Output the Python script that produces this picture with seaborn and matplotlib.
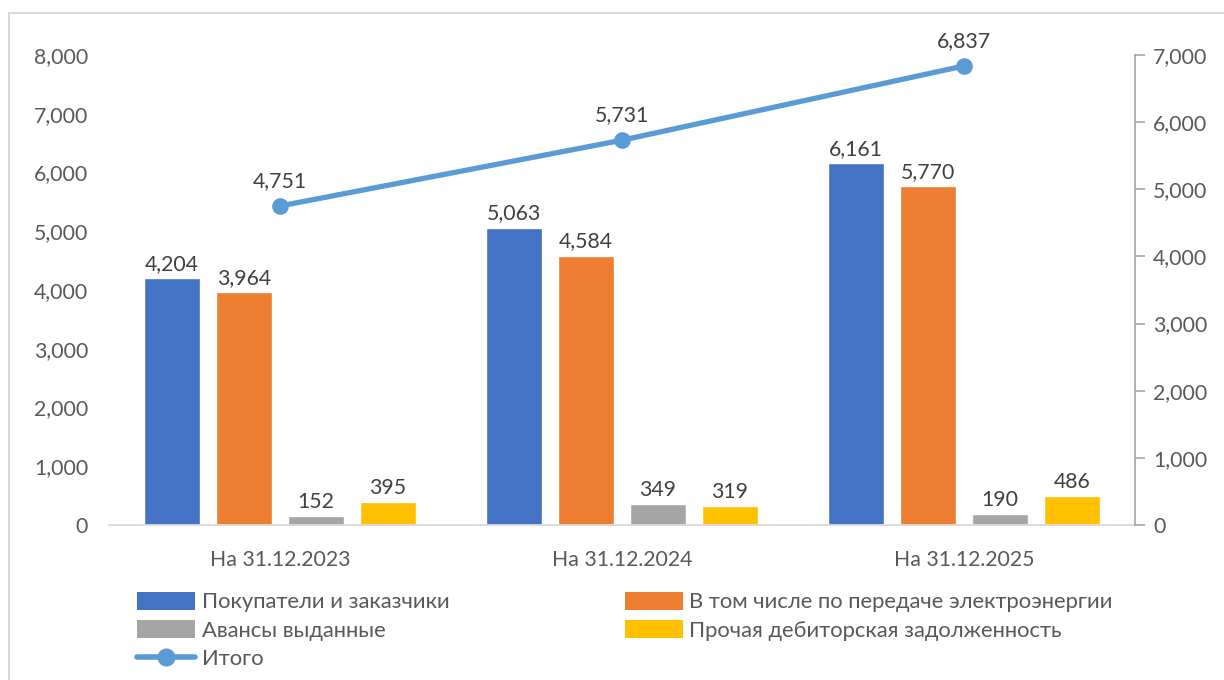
import matplotlib
matplotlib.use("Agg")
import matplotlib.pyplot as plt
from matplotlib.lines import Line2D
from matplotlib.patches import Patch
import seaborn as sns
import pandas as pd

categories = ["На 31.12.2023", "На 31.12.2024", "На 31.12.2025"]
series_names = [
    "Покупатели и заказчики",
    "В том числе по передаче электроэнергии",
    "Авансы выданные",
    "Прочая дебиторская задолженность",
]
buyers = [4204, 5063, 6161]
power_transfer = [3964, 4584, 5770]
advances = [152, 349, 190]
other = [395, 319, 486]
total_name = "Итого"
total = [4751, 5731, 6837]

bar_colors = ["#4472C4", "#ED7D31", "#A5A5A5", "#FFC000"]
line_color = "#5B9BD5"
tick_color = "#595959"
label_color = "#404040"
FS = 15.3
LEG_FS = 15.8

rows = []
for name, vals in zip(series_names, [buyers, power_transfer, advances, other]):
    for cat, v in zip(categories, vals):
        rows.append({"cat": cat, "series": name, "value": v})
df = pd.DataFrame(rows)
df_total = pd.DataFrame({"cat": categories, "value": total})

sns.set_theme(style="white")
plt.rcParams["font.family"] = ["Lato", "DejaVu Sans"]

fig = plt.figure(figsize=(12.24, 6.8), dpi=100)
W, H = 1224, 680
ax = fig.add_axes([109 / W, 1 - 525 / H, (1135 - 109) / W, (525 - 55) / H])

sns.barplot(data=df, x="cat", y="value", hue="series", hue_order=series_names,
            palette=bar_colors, width=0.842, gap=0.21, saturation=1,
            legend=False, ax=ax, errorbar=None)
ax.set_xlim(-0.5, 2.5)
ax.set_ylim(0, 8000)
ax.set_yticks(range(0, 8001, 1000))
ax.set_yticklabels([f"{v:,}" for v in range(0, 8001, 1000)])
ax.set_xlabel("")
ax.set_ylabel("")
for s in ["top", "left", "right"]:
    ax.spines[s].set_visible(False)
ax.spines["bottom"].set_color("#D9D9D9")
ax.spines["bottom"].set_linewidth(1.3)
ax.tick_params(axis="y", length=0, pad=15, labelsize=FS, labelcolor=tick_color)
ax.tick_params(axis="x", length=0, pad=18, labelsize=FS, labelcolor=tick_color)

for cont in ax.containers:
    ax.bar_label(cont, labels=[f"{v:,.0f}" for v in cont.datavalues],
                 padding=3, fontsize=FS, color=label_color)

ax2 = ax.twinx()
sns.lineplot(data=df_total, x="cat", y="value", ax=ax2, color=line_color,
             linewidth=3.8, marker="o", markersize=12, markeredgewidth=0,
             legend=False)
ax2.set_ylim(0, 7000)
ax2.set_xlim(-0.5, 2.5)
ax2.set_yticks(range(0, 7001, 1000))
ax2.set_yticklabels([f"{v:,}" for v in range(0, 7001, 1000)])
ax2.set_ylabel("")
ax2.set_xlabel("")
for s in ["top", "left", "bottom"]:
    ax2.spines[s].set_visible(False)
ax2.spines["right"].set_color("#A6A6A6")
ax2.spines["right"].set_linewidth(1.2)
ax2.tick_params(axis="y", length=7, width=1.2, color="#A6A6A6", direction="out",
                pad=6, labelsize=FS, labelcolor=tick_color)
for i, v in enumerate(total):
    ax2.annotate(f"{v:,}", (i, v), xytext=(0, 11), textcoords="offset points",
                 ha="center", va="bottom", fontsize=FS, color=label_color)

# legend below the plot, two columns plus the line entry
handles = [Patch(facecolor=c, edgecolor="none") for c in bar_colors]
handles.append(Line2D([], [], color=line_color, linewidth=4, marker="o",
                      markersize=13, markeredgewidth=0))
labels = series_names + [total_name]
order = [0, 2, 4, 1, 3]
leg = fig.legend([handles[i] for i in order], [labels[i] for i in order],
                 ncol=2, loc="upper left", bbox_to_anchor=(137 / W, 1 - 592 / H),
                 frameon=False, fontsize=LEG_FS, labelcolor=tick_color,
                 handlelength=2.66, handleheight=0.87, handletextpad=0.28,
                 columnspacing=8.0, labelspacing=0.36, borderpad=0,
                 borderaxespad=0)

# chart frame (top and left edges)
fig.add_artist(Line2D([9 / W, 1.0], [1 - 13 / H, 1 - 13 / H], color="#D9D9D9",
                      linewidth=1.5, transform=fig.transFigure))
fig.add_artist(Line2D([9 / W, 9 / W], [0, 1 - 13 / H], color="#D9D9D9",
                      linewidth=1.5, transform=fig.transFigure))

fig.savefig("out.png", dpi=100, facecolor="white")
